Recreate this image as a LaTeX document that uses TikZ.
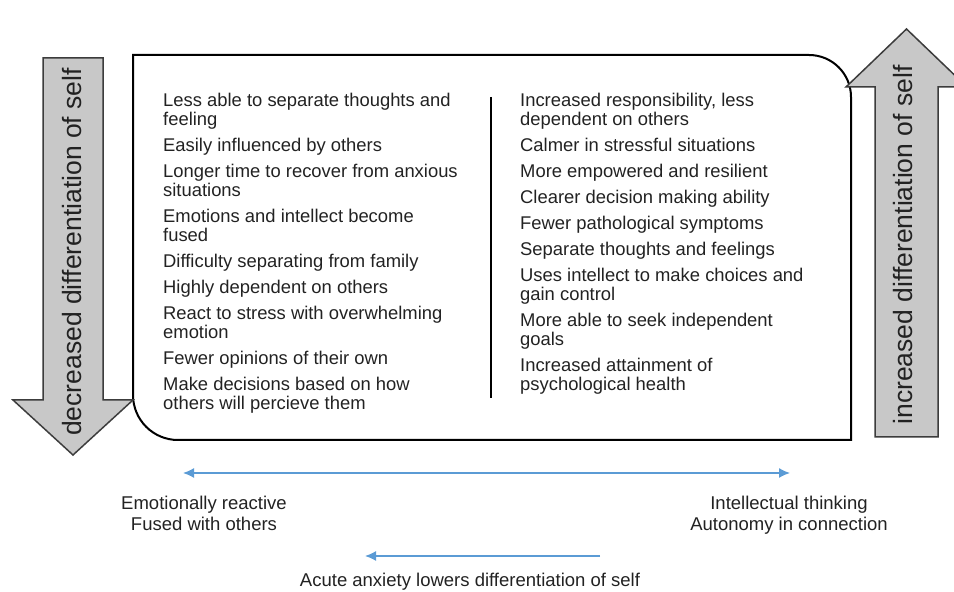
\documentclass[tikz,border=0pt]{standalone}
\usepackage{fontspec}
\setmainfont{Liberation Sans}
\usetikzlibrary{arrows.meta,positioning}

\definecolor{ink}{HTML}{222222}
\definecolor{shade}{HTML}{C8C8C8}
\definecolor{rim}{HTML}{3C3C3C}
\definecolor{sky}{HTML}{5B9BD5}

\begin{document}
\begin{tikzpicture}[x=1pt,y=1pt,
    every node/.style={text=ink, inner sep=0pt},
    list/.style={font=\fontsize{18.4}{19}\selectfont, align=left, anchor=north west},
    caption/.style={font=\fontsize{18.5}{21}\selectfont, align=center},
    fatarrow/.style={fill=shade, draw=rim, line width=1.5pt, line join=miter},
    fatlabel/.style={font=\fontsize{26.5}{28}\selectfont, rotate=90},
    slim/.style={draw=sky, line width=1.4pt}]
  \clip (0,0) rectangle (954,592);

  % the frame
  \draw[line width=2pt] (133,537) -- (809,537) arc[start angle=90,end angle=0,radius=42]
    -- (851,152) -- (178,152) arc[start angle=270,end angle=180,radius=45] -- cycle;

  % the two big arrows
  \draw[fatarrow] (43,534) -- (103,534) -- (103,192) -- (133,192) -- (73,137)
    -- (13,192) -- (43,192) -- cycle;
  \node[fatlabel] (down) at (72,340) {decreased differentiation of self};

  \draw[fatarrow] (875,155) -- (938,155) -- (938,505) -- (967,505) -- (906.5,563)
    -- (846,505) -- (875,505) -- cycle;
  \node[fatlabel] (up) at (903,347) {increased differentiation of self};

  % the two lists
  \node[list] (low) at (163,499) {Less able to separate thoughts and\\feeling\\[7pt]
    Easily influenced by others\\[7pt]
    Longer time to recover from anxious\\situations\\[7pt]
    Emotions and intellect become\\fused\\[7pt]
    Difficulty separating from family\\[7pt]
    Highly dependent on others\\[7pt]
    React to stress with overwhelming\\emotion\\[7pt]
    Fewer opinions of their own\\[7pt]
    Make decisions based on how\\others will percieve them};
  \node[list] (high) at (520,499) {Increased responsibility, less\\dependent on others\\[7pt]
    Calmer in stressful situations\\[7pt]
    More empowered and resilient\\[7pt]
    Clearer decision making ability\\[7pt]
    Fewer pathological symptoms\\[7pt]
    Separate thoughts and feelings\\[7pt]
    Uses intellect to make choices and\\gain control\\[7pt]
    More able to seek independent\\goals\\[7pt]
    Increased attainment of\\psychological health};
  \coordinate (top) at (491,495);
  \coordinate (bottom) at (491,194);
  \draw[line width=2pt] (top) -- (bottom);

  % the scale underneath
  \coordinate (reactive) at (183,119);
  \coordinate (thinking) at (790,119);
  \draw[slim, {Latex[length=11pt,width=10pt]}-{Latex[length=11pt,width=10pt]}] (reactive) -- (thinking);
  \node[caption, anchor=north] (fused) at (204,96) {Emotionally reactive\\Fused with others};
  \node[caption, anchor=north] (autonomy) at (789,96) {Intellectual thinking\\Autonomy in connection};

  \coordinate (calm) at (600,36);
  \coordinate (anxious) at (365,36);
  \draw[slim, -{Latex[length=11pt,width=10pt]}] (calm) -- (anxious);
  \node[caption, anchor=base] (acute) at (470,5.5) {Acute anxiety lowers differentiation of self};
\end{tikzpicture}
\end{document}
